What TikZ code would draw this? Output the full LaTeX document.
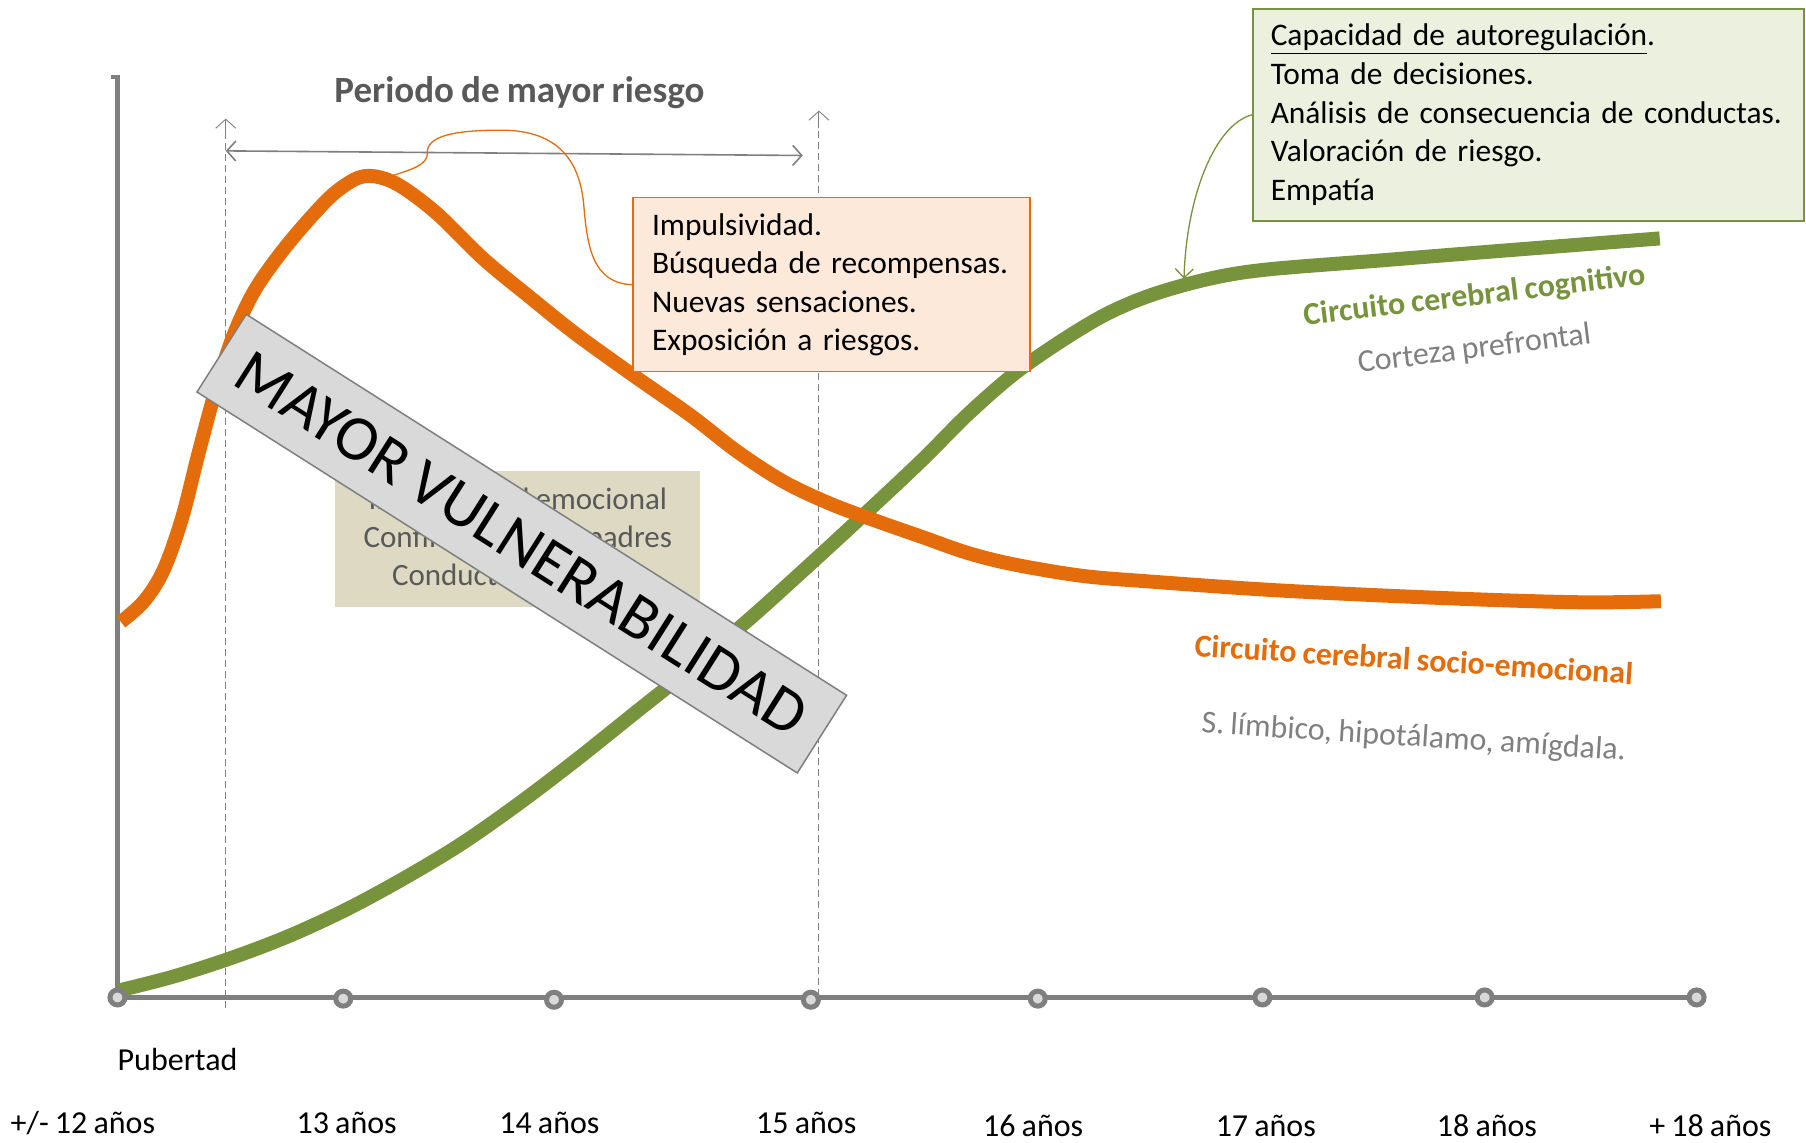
\documentclass[tikz,border=0pt]{standalone}
\usepackage{fontspec}
\setmainfont{Carlito}[WordSpace=0.85]
\usetikzlibrary{arrows.meta}
\definecolor{orangeC}{HTML}{E46C0A}
\definecolor{greenC}{HTML}{77933C}
\definecolor{axisgray}{HTML}{7F7F7F}
\definecolor{markfill}{HTML}{D9D9D9}
\definecolor{oboxfill}{HTML}{FDE9D9}
\definecolor{gboxfill}{HTML}{EBF1DE}
\definecolor{beige}{HTML}{DDD9C3}
\definecolor{bannerfill}{HTML}{D9D9D9}
\definecolor{darktext}{HTML}{595959}
\definecolor{lighttext}{HTML}{808080}
\newcommand\sz[2]{\fontsize{#1}{#2}\selectfont}
\begin{document}
\begin{tikzpicture}[x=1.1518pt,y=-1.1518pt,
  curveO/.style={orangeC, line width=14pt, line join=round},
  curveG/.style={greenC, line width=14pt, line join=round},
  axisline/.style={axisgray, line width=5pt},
  marker/.style={circle, draw=axisgray, fill=markfill, line width=5pt, minimum size=15pt, inner sep=0pt},
  dashline/.style={axisgray, line width=0.9pt, dash pattern=on 7pt off 4pt},
  ticklabel/.style={anchor=base, font=\sz{32}{38}, text=black, inner sep=0pt},
  obox/.style={draw=orangeC, fill=oboxfill, line width=1.5pt, anchor=north west, align=left,
    text width=359pt, inner xsep=19pt, minimum height=174pt, font=\sz{31.4}{38.6}},
  gbox/.style={draw=greenC, fill=gboxfill, line width=1.5pt, anchor=north west, align=left,
    text width=515pt, inner xsep=18pt, minimum height=212pt, font=\sz{31.4}{38.6}},
  beigebox/.style={fill=beige, anchor=north west, align=center, text=darktext,
    minimum width=365pt, minimum height=136pt, font=\sz{31}{38}, inner sep=0pt},
  banner/.style={draw=axisgray, fill=bannerfill, line width=1.5pt, minimum width=711pt,
    minimum height=92pt, font=\sz{64}{70}, inner sep=0pt},
  circlabel/.style={anchor=base, font=\bfseries\sz{32}{38}, inner sep=0pt},
  sublabel/.style={anchor=base, font=\sz{32}{38}, text=lighttext, inner sep=0pt}
]
\useasboundingbox (0,0) rectangle (1568,992);
\fill[white] (0,0) rectangle (1568,992);

% dashed period lines
\coordinate (d1bot) at (196,875);
\coordinate (d1top) at (196,103);
\coordinate (d2bot) at (711,865);
\coordinate (d2top) at (711,96);
\draw[dashline] (d1bot) -- (d1top);
\draw[dashline] (d2bot) -- (d2top);
\draw[axisgray, line width=0.9pt, -{Straight Barb[length=9pt,width=20pt]}] (196,118) -- (d1top);
\draw[axisgray, line width=0.9pt, -{Straight Barb[length=9pt,width=20pt]}] (711,111) -- (d2top);

% period double arrow
\coordinate (pa) at (196,131);
\coordinate (pb) at (697,135);
\draw[axisgray, line width=1.6pt, {Straight Barb[length=9pt,width=20pt]}-{Straight Barb[length=9pt,width=20pt]}] (pa) -- (pb);
\node[anchor=base, font=\bfseries\sz{37}{43}, text=darktext, inner sep=0pt] (title) at (451,89) {Periodo de mayor riesgo};

% marker positions and axes
\foreach \i/\x/\y in {1/102/866,2/298/867,3/481/868,4/704/868,5/901/867,6/1096/866,7/1289/866,8/1473/866}
  \coordinate (p\i) at (\x,\y);
\coordinate (ytop) at (103,65);
\coordinate (ytick) at (96,67);
\draw[axisline] (p1) -- (p1 |- ytop);
\draw[axisgray, line width=4pt] (ytick) -- (p1 |- ytick);
\draw[axisline] (p1) -- (p8);

% hidden beige box
\node[beigebox] (bb) at (291,409) {Inestabilidad emocional\\Conflictos con los padres\\Conductas de riesgo};

% green curve
\draw[curveG] plot[smooth, tension=0.55] coordinates {(103,860) (150,848) (200,832) (250,813) (300,790) (350,763) (400,733) (450,698) (500,660) (550,620) (600,580) (650,538) (700,493) (750,447) (800,400) (840,360) (880,325) (920,297) (960,273) (1000,256) (1050,242) (1100,234) (1200,226) (1300,218) (1441,207)};
% orange curve
\draw[curveO] plot[smooth, tension=0.55] coordinates {(105,540) (125,522) (142,495) (158,450) (172,395) (186,343) (202,293) (220,254) (242,222) (266,193) (290,168) (312,154) (330,154) (350,163) (380,186) (420,225) (460,258) (500,290) (550,326) (600,361) (640,392) (680,418) (720,437) (760,452) (800,466) (840,480) (880,490) (940,500) (1000,505) (1100,512) (1200,517) (1300,521) (1380,523) (1442,522)};

% markers
\foreach \i in {1,...,8} \node[marker] (m\i) at (p\i) {};

% axis labels
\node[anchor=base west, font=\sz{32}{38}, inner sep=0pt] (pub) at (102,929) {Pubertad};
\node[ticklabel] (l1) at (72,984) {+/- 12 años};
\node[ticklabel] (l2) at (301,984) {13 años};
\node[ticklabel] (l3) at (477,984) {14 años};
\node[ticklabel] (l4) at (700,984) {15 años};
\node[ticklabel] (l5) at (897,987) {16 años};
\node[ticklabel] (l6) at (1099,987) {17 años};
\node[ticklabel] (l7) at (1291,987) {18 años};
\node[ticklabel] (l8) at (1485,987) {+ 18 años};

% orange info box and callout
\coordinate (peak) at (342,152);
\node[obox] (ob) at (549,171) {\mbox{Impulsividad.}\\\mbox{Búsqueda de recompensas.}\\\mbox{Nuevas sensaciones.}\\\mbox{Exposición a riesgos.}};
\draw[orangeC, line width=1.3pt] (ob.west) .. controls (515,246) and (510,215) .. (507,180)
  .. controls (504,140) and (485,113) .. (435,113)
  .. controls (395,113) and (370,118) .. (371,133)
  .. controls (372,143) and (355,148) .. (peak);

% green info box and callout
\node[gbox] (gb) at (1087,7) {\mbox{\underline{Capacidad de autoregulación}.}\\\mbox{Toma de decisiones.}\\\mbox{Análisis de consecuencia de conductas.}\\\mbox{Valoración de riesgo.}\\\mbox{Empatía}};
\coordinate (gtip) at (1028,242);
\draw[greenC, line width=1.3pt, -{Straight Barb[length=9pt,width=18pt]}] (gb.west) .. controls (1055,108) and (1030,170) .. (gtip);

% banner
\node[banner, rotate=-32.4] (ban) at (453,472) {MAYOR VULNERABILIDAD};

% curve labels
\node[circlabel, text=greenC, rotate=6.8] (cg) at (1281,265) {Circuito cerebral cognitivo};
\node[sublabel, rotate=7] (cp) at (1281,311) {Corteza prefrontal};
\node[circlabel, text=orangeC, rotate=-3.7] (co) at (1227,582) {Circuito cerebral socio-emocional};
\node[sublabel, rotate=-3.7] (cl) at (1227,648) {S. límbico, hipotálamo, amígdala.};
\end{tikzpicture}
\end{document}
